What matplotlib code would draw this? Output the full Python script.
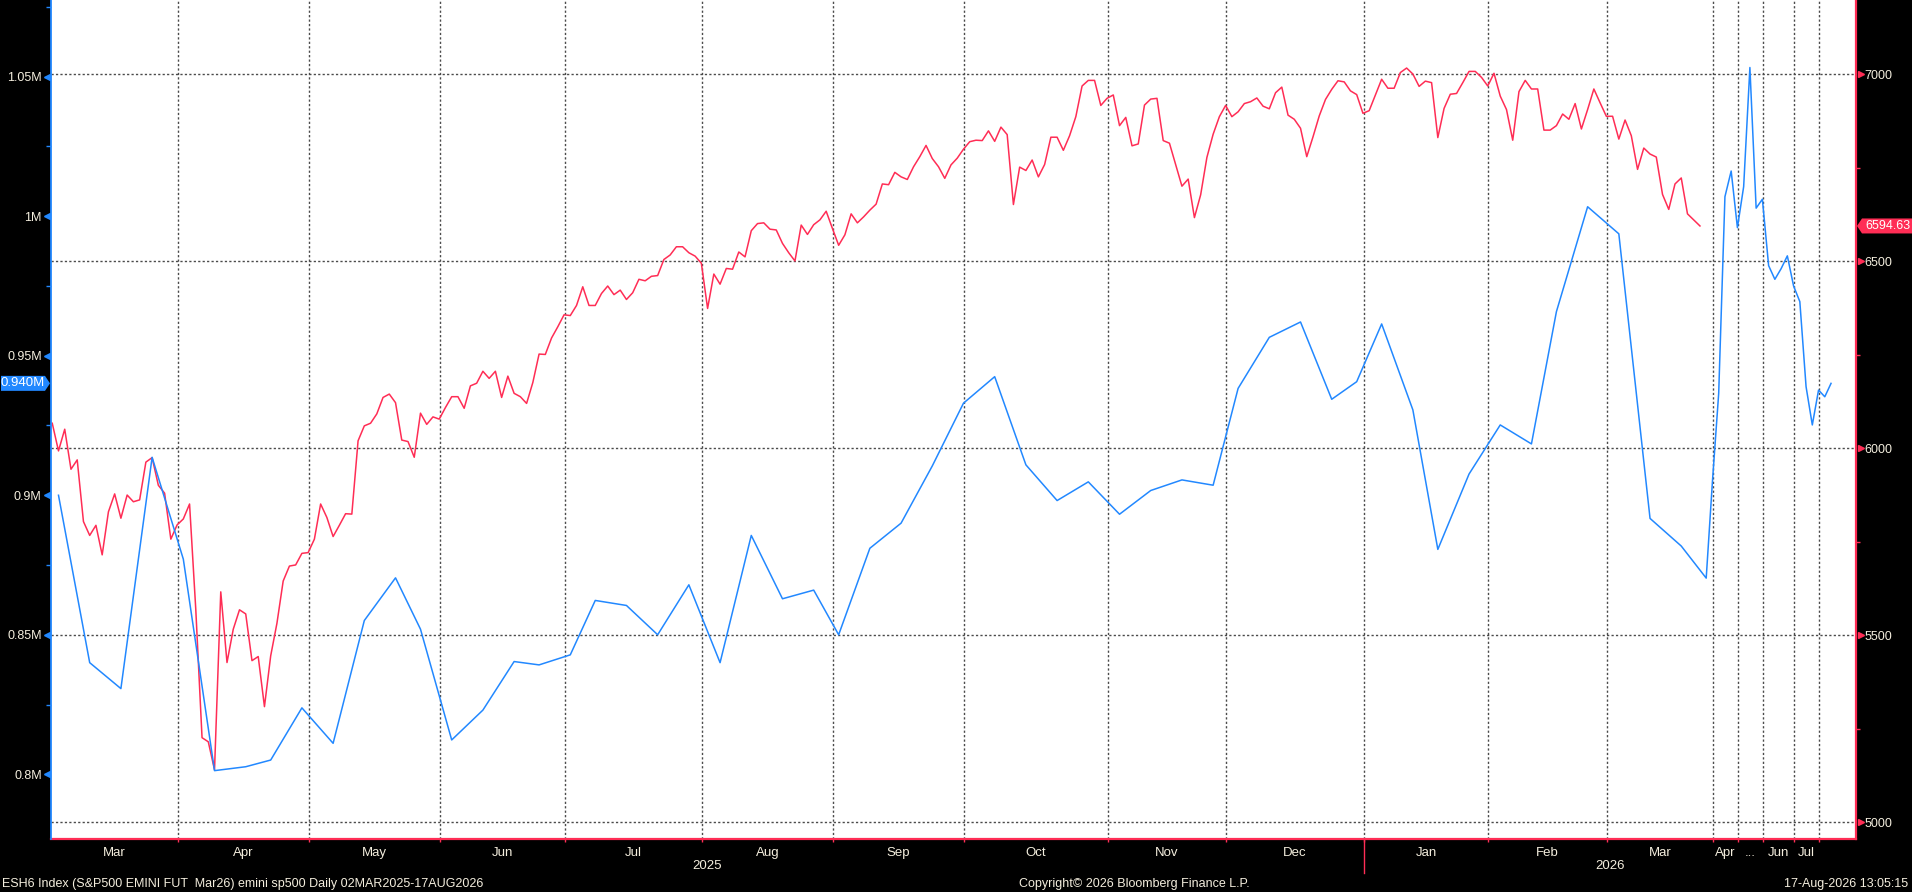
import numpy as np
import pandas as pd
import matplotlib
matplotlib.use("Agg")
import matplotlib.pyplot as plt
import matplotlib.transforms as mtransforms
from matplotlib.patches import Polygon

plt.rcParams['font.family'] = ['Liberation Sans', 'DejaVu Sans']

RED = '#ff2d55'
BLUE = '#2288ff'
TXT = '#f4eede'
GRID = '#4a4a4a'

# ESH6 daily closes 03MAR2025 - 20MAR2026 (right axis)
red_vals = [
    # Mar 2025
    6067, 5993, 6051, 5944, 5969, 5804, 5767, 5794, 5715, 5830, 5878,
    5813, 5875, 5857, 5862, 5963, 5975, 5901, 5880, 5757, 5795,
    # Apr
    5811, 5851, 5568, 5226, 5215, 5140, 5616, 5427, 5516, 5568, 5557,
    5432, 5443, 5309, 5445, 5532, 5645, 5685, 5688, 5719, 5721,
    # May
    5757, 5851, 5815, 5764, 5794, 5825, 5824, 6020, 6060, 6067, 6092,
    6136, 6145, 6122, 6022, 6018, 5976, 6094, 6064, 6084, 6078,
    # Jun
    6109, 6138, 6138, 6107, 6167, 6174, 6206, 6187, 6206, 6136,
    6193, 6147, 6138, 6120, 6176, 6252, 6251, 6295, 6325, 6357,
    # Jul
    6355, 6382, 6432, 6382, 6382, 6414, 6434, 6411, 6423, 6398, 6416,
    6452, 6448, 6460, 6462, 6505, 6517, 6539, 6539, 6523, 6514, 6495,
    # Aug
    6374, 6466, 6439, 6481, 6479, 6525, 6512, 6582, 6601, 6603, 6586,
    6584, 6548, 6523, 6501, 6597, 6572, 6598, 6611, 6634, 6588,
    # Sep
    6543, 6571, 6627, 6603, 6619, 6637, 6653, 6707, 6705, 6738, 6726,
    6719, 6753, 6780, 6810, 6775, 6753, 6722, 6758, 6776, 6800,
    # Oct
    6820, 6824, 6823, 6849, 6821, 6859, 6839, 6652, 6752, 6743, 6771, 6726,
    6759, 6832, 6832, 6797, 6836, 6887, 6969, 6984, 6984, 6917, 6936,
    # Nov
    6945, 6863, 6885, 6809, 6814, 6918, 6934, 6936, 6823, 6816,
    6759, 6701, 6720, 6617, 6678, 6778, 6840, 6887, 6917,
    # Dec
    6887, 6900, 6922, 6927, 6937, 6915, 6908, 6951, 6966, 6891, 6880,
    6856, 6780, 6833, 6889, 6933, 6960, 6983, 6980, 6956, 6946, 6896,
    # Jan 2026
    6903, 6945, 6987, 6963, 6963, 7005, 7017, 7001, 6968, 6982,
    6978, 6831, 6909, 6947, 6949, 6978, 7008, 7008, 6992, 6969,
    # Feb
    7003, 6942, 6906, 6824, 6954, 6984, 6961, 6961, 6851, 6851,
    6863, 6894, 6880, 6922, 6854, 6906, 6961, 6924, 6888,
    # Mar
    6888, 6827, 6878, 6836, 6746, 6803, 6787, 6779, 6679, 6639,
    6707, 6723, 6627, 6611, 6594.63,
]

# weekly (Tuesday) series in thousands, 04MAR2025 - 11AUG2026 (left axis)
blue_vals = [
    900.0, 840.0, 830.7, 913.6, 877.1, 801.3, 802.7, 805.1, 823.8, 811.1,
    855.1, 870.4, 852.0, 812.3, 823.0, 840.4, 839.2, 842.8, 862.3, 860.5,
    850.0, 867.9, 840.0, 885.6, 862.9, 866.0, 850.0, 881.0, 890.0, 910.5,
    933.0, 942.5, 910.9, 898.1, 904.8, 893.2, 901.7, 905.5, 903.6, 938.3,
    956.6, 962.1, 934.4, 940.7, 961.4, 930.6, 880.6, 907.6, 925.2, 918.4,
    965.8, 1003.4, 993.7, 891.7, 881.8, 870.3, 905.0, 936.5, 1007.0, 1016.2,
    995.9, 1010.6, 1053.3, 1002.9, 1006.1, 982.3, 977.4, 981.2, 985.8, 975.0,
    969.4, 938.9, 925.2, 937.7, 935.3, 940.1,
]

holidays = ['2025-04-18', '2025-05-26', '2025-06-19', '2025-07-04', '2025-09-01',
            '2025-11-27', '2025-12-25', '2026-01-01', '2026-01-19', '2026-02-16']

month_labels = ['Mar', 'Apr', 'May', 'Jun', 'Jul', 'Aug', 'Sep', 'Oct', 'Nov', 'Dec',
                'Jan', 'Feb', 'Mar', 'Apr', '...', 'Jun', 'Jul', '']
year_labels = ['2025', '2026']

red_ticks = [5000, 5500, 6000, 6500, 7000]
blue_ticks = [800, 850, 900, 950, 1000, 1050]

# Bloomberg style axis: every date in either series gets one slot
red_dates = pd.bdate_range('2025-03-03', periods=len(red_vals), freq='C', holidays=holidays)
blue_dates = pd.date_range('2025-03-04', periods=len(blue_vals), freq='7D')
all_dates = red_dates.union(blue_dates)
slot = pd.Series(np.arange(len(all_dates)), index=all_dates)
red_x = slot[red_dates].values
blue_x = slot[blue_dates].values

per = all_dates.to_period('M')
starts = np.flatnonzero(per[1:] != per[:-1]) + 1
bounds = starts - 1 + 0.1
xmin, xmax = -0.2, len(all_dates) - 1 + 4.0
edges = np.concatenate([[xmin], bounds, [xmax]])
centers = (edges[:-1] + edges[1:]) / 2
year_start = bounds[[p.month == 1 for p in per[starts]]][0]

fig = plt.figure(figsize=(19.12, 8.92), dpi=100, facecolor='black')
ax = fig.add_axes([51 / 1912, 53 / 892, 1805 / 1912, 839 / 892])
ax.set_facecolor('white')
axb = ax.twinx()

ax.plot(red_x, red_vals, color=RED, lw=1.1, zorder=3)
axb.plot(blue_x, blue_vals, color=BLUE, lw=1.1, zorder=3)

# right axis (price)
ax.yaxis.tick_right()
ax.set_yticks(red_ticks)
ax.set_yticks([5250, 5750, 6250, 6750], minor=True)
ax.tick_params(axis='y', which='major', length=0, pad=5.8, labelsize=9, labelcolor=TXT)
ax.tick_params(axis='y', which='minor', length=3, width=1, color=RED, direction='out')

# left axis (weekly series)
axb.yaxis.tick_left()
axb.set_yticks(blue_ticks)
axb.set_yticklabels([f"{v / 1000:g}M" for v in blue_ticks])
axb.set_yticks([825, 875, 925, 975, 1025, 1075], minor=True)
axb.tick_params(axis='y', which='major', length=0, pad=6.7, labelsize=9, labelcolor=TXT)
axb.tick_params(axis='y', which='minor', length=3.5, width=1, color=BLUE, direction='out')

# x axis: month boundaries as gridlines, labels centred in each month
ax.set_xticks(bounds)
ax.set_xticklabels([])
ax.set_xticks(centers, minor=True)
ax.set_xticklabels(month_labels, minor=True)
ax.tick_params(axis='x', which='major', length=2.5, width=1, color=RED, direction='out')
ax.tick_params(axis='x', which='minor', length=0, pad=5.5, labelsize=9.5, labelcolor=TXT)

ax.grid(True, which='major', axis='both', color=GRID, lw=1.0, ls=(0, (1.6, 1.6)))
ax.set_axisbelow(True)

for s in ['top', 'left']:
    ax.spines[s].set_visible(False)
for s in ['top', 'right', 'bottom']:
    axb.spines[s].set_visible(False)
ax.spines['right'].set_color(RED)
ax.spines['right'].set_linewidth(1.6)
ax.spines['bottom'].set_color(RED)
ax.spines['bottom'].set_linewidth(1.6)
axb.spines['left'].set_color(BLUE)
axb.spines['left'].set_linewidth(1.3)

# tick triangles
tr_r = mtransforms.blended_transform_factory(ax.transAxes, ax.transData) + \
    mtransforms.ScaledTranslation(0.045, 0, fig.dpi_scale_trans)
ax.plot(np.ones(len(red_ticks)), red_ticks, ls='none', marker='>', ms=5, color=RED,
        transform=tr_r, clip_on=False)
tr_l = mtransforms.blended_transform_factory(axb.transAxes, axb.transData) + \
    mtransforms.ScaledTranslation(-0.04, 0, fig.dpi_scale_trans)
axb.plot(np.zeros(len(blue_ticks)), blue_ticks, ls='none', marker='<', ms=5, color=BLUE,
         transform=tr_l, clip_on=False)
ax.set_xlim(xmin, xmax)
ax.set_ylim(4955, 7199)
axb.set_ylim(776.8, 1077.5)

# year labels and year separator
tr_x = mtransforms.blended_transform_factory(ax.transData, ax.transAxes)
ax.text((xmin + year_start) / 2, -0.032, year_labels[0], transform=tr_x, ha='center',
        va='center', color=TXT, fontsize=9.5)
ax.text((year_start + xmax) / 2, -0.032, year_labels[1], transform=tr_x, ha='center',
        va='center', color=TXT, fontsize=9.5)
ax.plot([year_start, year_start], [0, -0.04], transform=tr_x, color=RED, lw=1,
        clip_on=False)

# last value tags
ident = mtransforms.IdentityTransform()
xr = ax.transAxes.transform((1, 0))[0]
yr = ax.transData.transform((0, red_vals[-1]))[1]
fig.add_artist(Polygon([(xr + 1, yr), (xr + 6, yr + 7.5), (1912, yr + 7.5),
                        (1912, yr - 7.5), (xr + 6, yr - 7.5)],
                       closed=True, facecolor=RED, edgecolor='none', transform=ident))
fig.text(1910, yr, f"{red_vals[-1]:.2f}", transform=ident, ha='right', va='center',
         color='white', fontsize=9)

xl = axb.transAxes.transform((0, 0))[0]
yb = axb.transData.transform((0, blue_vals[-1]))[1]
fig.add_artist(Polygon([(1, yb + 7.5), (xl - 6, yb + 7.5), (xl - 1, yb),
                        (xl - 6, yb - 7.5), (1, yb - 7.5)],
                       closed=True, facecolor=BLUE, edgecolor='none', transform=ident))
fig.text((xl - 5) / 2, yb, f"{blue_vals[-1] / 1000:.3f}M", transform=ident, ha='center',
         va='center', color='white', fontsize=9.5)

# footer
fig.text(2 / 1912, 8 / 892, 'ESH6 Index (S&P500 EMINI FUT  Mar26) emini sp500 Daily 02MAR2025-17AUG2026',
         ha='left', va='center', color=TXT, fontsize=9)
fig.text(1134 / 1912, 8 / 892, 'Copyright\u00a9 2026 Bloomberg Finance L.P.',
         ha='center', va='center', color=TXT, fontsize=9)
fig.text(1908 / 1912, 8 / 892, '17-Aug-2026 13:05:15',
         ha='right', va='center', color=TXT, fontsize=9)

fig.savefig('out.png', dpi=100, facecolor='black')
